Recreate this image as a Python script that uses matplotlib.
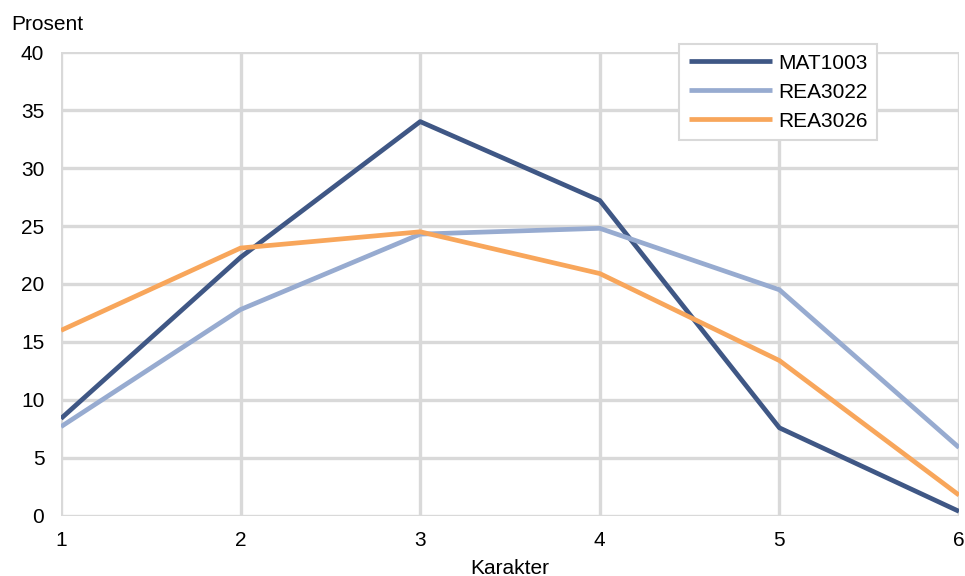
import matplotlib
matplotlib.use("Agg")
import matplotlib.pyplot as plt

# karakterfordeling i prosent
karakter = [1, 2, 3, 4, 5, 6]
mat1003 = [8.4, 22.3, 34.0, 27.2, 7.6, 0.4]
rea3022 = [7.7, 17.8, 24.3, 24.8, 19.5, 5.9]
rea3026 = [16.0, 23.1, 24.5, 20.9, 13.4, 1.8]

plt.rcParams['font.family'] = ['Liberation Sans', 'DejaVu Sans']

fig = plt.figure(figsize=(9.65, 5.76), dpi=100)
ax = fig.add_axes([0.0632, 0.1042, 0.9306, 0.8055])

ax.plot(karakter, mat1003, color='#3f5785', lw=3.4, label='MAT1003', solid_capstyle='butt')
ax.plot(karakter, rea3022, color='#97abd0', lw=3.4, label='REA3022', solid_capstyle='butt')
ax.plot(karakter, rea3026, color='#f8a65b', lw=3.4, label='REA3026', solid_capstyle='butt')

ax.set_xlim(1, 6)
ax.set_ylim(0, 40)
ax.set_xticks(karakter)
ax.set_yticks(range(0, 41, 5))
ax.grid(True, color='#d9d9d9', lw=2.4)
ax.set_axisbelow(True)
for s in ax.spines.values():
    s.set_visible(False)
ax.tick_params(length=0, labelsize=15)
ax.tick_params(axis='x', pad=11)
ax.tick_params(axis='y', pad=12)

ax.set_xlabel('Karakter', fontsize=15, labelpad=6)
ax.text(-0.055, 1.047, 'Prosent', transform=ax.transAxes, fontsize=15, ha='left', va='baseline')

leg = ax.legend(loc='upper right', bbox_to_anchor=(0.909, 1.017), fontsize=15,
                frameon=True, fancybox=False, edgecolor='#d9d9d9', framealpha=1,
                handlelength=4.0, borderpad=0.45, labelspacing=0.48, handletextpad=0.3,
                borderaxespad=0)
leg.get_frame().set_linewidth(1.5)

fig.savefig('out.png', dpi=100)
